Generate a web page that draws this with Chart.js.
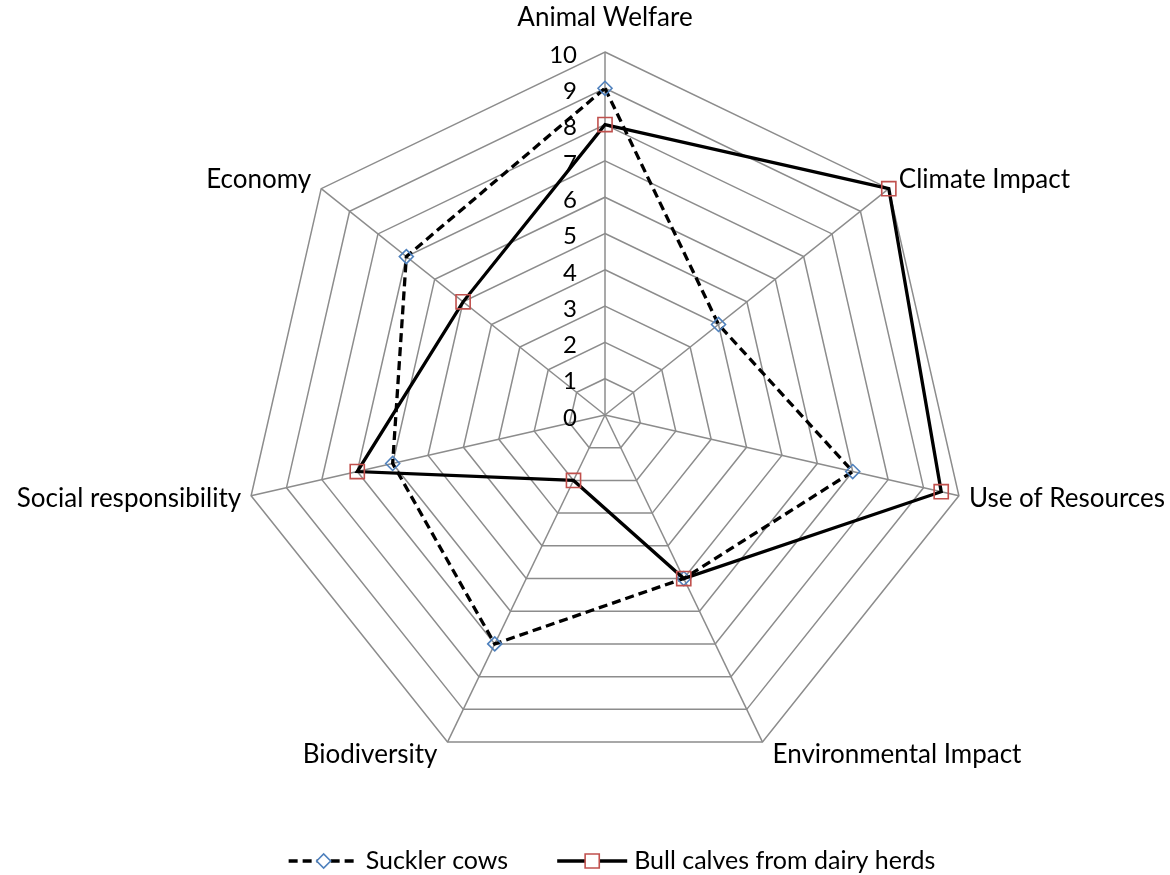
<!DOCTYPE html>
<html>
<head>
<meta charset="utf-8">
<title>Sustainability profile: suckler cows vs bull calves</title>
<script src="https://cdn.jsdelivr.net/npm/chart.js@4.4.1/dist/chart.umd.min.js"></script>
<style>
  html, body { margin: 0; padding: 0; background: #ffffff; }
  canvas { display: block; }
</style>
</head>
<body>
<canvas id="radar" width="1170" height="875"></canvas>
<script>
// Criteria around the radar, clockwise from the top
const categories = [
  'Animal Welfare',
  'Climate Impact',
  'Use of Resources',
  'Environmental Impact',
  'Biodiversity',
  'Social responsibility',
  'Economy'
];

// Scores per criterion (0–10)
const sucklerCows = [9, 4, 7, 5, 7, 6, 7];
const bullCalves  = [8, 10, 9.5, 5, 2, 7, 5];

const seriesNames = ['Suckler cows', 'Bull calves from dairy herds'];

// Radial axis values
const tickValues = [0, 1, 2, 3, 4, 5, 6, 7, 8, 9, 10];

const FAMILY = 'Lato, "Open Sans", sans-serif';
const GRID = '#8c8c8c';
const BLUE = '#4f81bd';
const RED = '#c0504d';

// Axis labels, tick numbers and the legend drawn on top of the plot
const annotate = {
  id: 'annotate',
  afterDraw(chart) {
    const ctx = chart.ctx;
    const r = chart.scales.r;
    const R = r.drawingArea;
    ctx.save();
    ctx.fillStyle = '#000000';

    // tick numbers, to the left of the vertical spoke
    ctx.font = '24px ' + FAMILY;
    ctx.textAlign = 'right';
    ctx.textBaseline = 'middle';
    tickValues.forEach(v => {
      const d = r.getDistanceFromCenterForValue(v);
      ctx.fillText(String(v), r.xCenter - 28, r.yCenter - d + 3);
    });

    // category labels outside each vertex
    ctx.font = '26px ' + FAMILY;
    categories.forEach((label, i) => {
      const p = r.getPointPosition(i, R);
      const ang = (2 * Math.PI * i) / categories.length;
      const s = Math.sin(ang), c = Math.cos(ang);
      let x, y;
      if (i === 0) {
        ctx.textAlign = 'center';
        x = p.x;
        y = p.y - 34;
      } else if (s > 0) {
        ctx.textAlign = 'left';
        x = p.x + 10;
        y = p.y - 14 * c;
      } else {
        ctx.textAlign = 'right';
        x = p.x - 10;
        y = p.y - 14 * c;
      }
      ctx.fillText(label, x, y);
    });

    // legend: line sample with marker, then series name
    ctx.font = '25px ' + FAMILY;
    const ly = 861;
    const lineLen = 70;
    const gapText = 7;
    const gapItems = 49;
    const w0 = ctx.measureText(seriesNames[0]).width;
    const w1 = ctx.measureText(seriesNames[1]).width;
    const total = lineLen + gapText + w0 + gapItems + lineLen + gapText + w1;
    let x = 612 - total / 2;

    const ds = chart.data.datasets;
    [0, 1].forEach(k => {
      const d = ds[k];
      ctx.strokeStyle = '#000000';
      ctx.lineWidth = d.borderWidth;
      ctx.setLineDash(d.borderDash || []);
      ctx.beginPath();
      ctx.moveTo(x, ly);
      ctx.lineTo(x + lineLen, ly);
      ctx.stroke();
      ctx.setLineDash([]);
      ctx.fillStyle = '#ffffff';
      ctx.strokeStyle = d.pointBorderColor;
      ctx.lineWidth = d.pointBorderWidth;
      Chart.helpers.drawPoint(ctx, {
        pointStyle: d.pointStyle,
        radius: d.pointRadius,
        borderWidth: d.pointBorderWidth,
        rotation: 0
      }, x + lineLen / 2, ly);
      ctx.fillStyle = '#000000';
      ctx.textAlign = 'left';
      ctx.fillText(seriesNames[k], x + lineLen + gapText, ly);
      x += lineLen + gapText + (k === 0 ? w0 : w1) + gapItems;
    });
    ctx.restore();
  }
};

new Chart(document.getElementById('radar'), {
  type: 'radar',
  data: {
    labels: categories,
    datasets: [
      {
        label: seriesNames[0],
        data: sucklerCows,
        borderColor: '#000000',
        borderWidth: 3.3,
        borderDash: [9, 5],
        fill: false,
        tension: 0,
        pointStyle: 'rectRot',
        pointRadius: 7,
        pointHoverRadius: 7,
        pointBorderWidth: 1.6,
        pointBorderColor: BLUE,
        pointBackgroundColor: 'rgba(0,0,0,0)',
        order: 1
      },
      {
        label: seriesNames[1],
        data: bullCalves,
        borderColor: '#000000',
        borderWidth: 3.3,
        fill: false,
        tension: 0,
        pointStyle: 'rect',
        pointRadius: 10,
        pointHoverRadius: 10,
        pointBorderWidth: 1.6,
        pointBorderColor: RED,
        pointBackgroundColor: 'rgba(0,0,0,0)',
        order: 0
      }
    ]
  },
  options: {
    responsive: false,
    animation: false,
    events: [],
    plugins: {
      legend: { display: false },
      tooltip: { enabled: false }
    },
    scales: {
      r: {
        min: 0,
        max: 10,
        startAngle: 0,
        ticks: { stepSize: 1, display: false },
        pointLabels: { display: false },
        grid: { color: GRID, lineWidth: 1.5 },
        angleLines: { color: GRID, lineWidth: 1.5 },
        afterFit(scale) {
          scale.xCenter = 605;
          scale.yCenter = 415;
          scale.drawingArea = 363;
        }
      }
    }
  },
  plugins: [annotate]
});
</script>
</body>
</html>
